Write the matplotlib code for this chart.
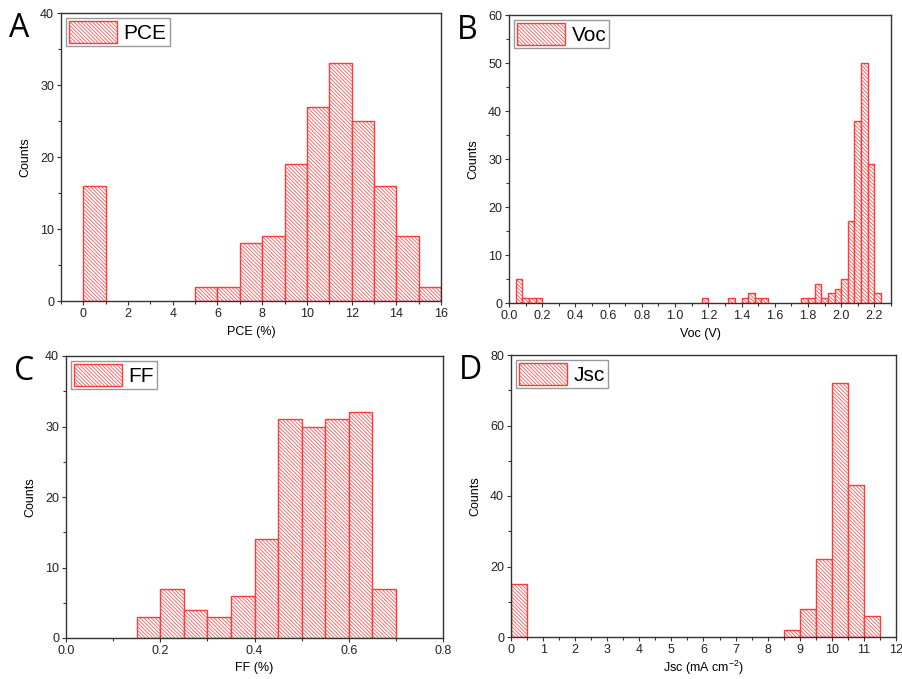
"""Four-panel histogram of device parameters (PCE, Voc, FF, Jsc)."""
import matplotlib
matplotlib.use("Agg")
import matplotlib.pyplot as plt
from matplotlib.ticker import MultipleLocator

# bin left edges and counts
pce_left = [0, 5, 6, 7, 8, 9, 10, 11, 12, 13, 14, 15]
pce_counts = [16, 2, 2, 8, 9, 19, 27, 33, 25, 16, 9, 2]

voc_left = [0.04, 0.08, 0.12, 0.16, 1.16, 1.32, 1.40, 1.44, 1.48, 1.52,
            1.76, 1.80, 1.84, 1.88, 1.92, 1.96, 2.00, 2.04, 2.08, 2.12, 2.16, 2.20]
voc_counts = [5, 1, 1, 1, 1, 1, 1, 2, 1, 1,
              1, 1, 4, 1, 2, 3, 5, 17, 38, 50, 29, 2]

ff_left = [0.15, 0.20, 0.25, 0.30, 0.35, 0.40, 0.45, 0.50, 0.55, 0.60, 0.65]
ff_counts = [3, 7, 4, 3, 6, 14, 31, 30, 31, 32, 7]

jsc_left = [0, 8.5, 9.0, 9.5, 10.0, 10.5, 11.0]
jsc_counts = [15, 2, 8, 22, 72, 43, 6]

RED = "#ff3b3b"
plt.rcParams.update({"font.family": "Liberation Sans", "font.size": 9,
                     "mathtext.default": "regular",
                     "hatch.linewidth": 0.5, "hatch.color": RED,
                     "axes.edgecolor": "#333333", "axes.linewidth": 1.0})

fig = plt.figure(figsize=(9.03, 6.79), dpi=100)
W, H = 903, 679


def panel(box, left, counts, width, label, letter, xlim, ylim,
          xmaj, xmin_, ymaj, ymin_, xlabel, xfmt=None, xpad=4):
    x0, y0, x1, y1 = box
    ax = fig.add_axes([x0 / W, 1 - y1 / H, (x1 - x0) / W, (y1 - y0) / H])
    ax.bar(left, counts, width=width, align="edge", facecolor="white",
           edgecolor=RED, linewidth=1.0, hatch="\\" * 9, label=label, zorder=2)
    ax.set_xlim(*xlim)
    ax.set_ylim(*ylim)
    ax.xaxis.set_major_locator(MultipleLocator(xmaj))
    ax.xaxis.set_minor_locator(MultipleLocator(xmin_))
    ax.yaxis.set_major_locator(MultipleLocator(ymaj))
    ax.yaxis.set_minor_locator(MultipleLocator(ymin_))
    if xfmt:
        ax.xaxis.set_major_formatter(xfmt)
    ax.tick_params(which="major", direction="out", length=3, width=0.8, pad=2,
                   labelsize=9, colors="#333333", labelcolor="#222222")
    ax.tick_params(which="minor", direction="out", length=2, width=0.8, colors="#333333")
    ax.set_ylabel("Counts", fontsize=9, labelpad=6)
    ax.set_xlabel(xlabel, fontsize=9, labelpad=xpad)
    leg = ax.legend(loc="upper left", fontsize=15, handlelength=2.3, handleheight=1.2,
                    fancybox=False, edgecolor="#999999", framealpha=1,
                    borderpad=0.15, handletextpad=0.3, borderaxespad=0.25)
    leg.get_frame().set_linewidth(1.0)
    fig.text((x0 - 52) / W, 1 - (y0 + 24) / H, letter, fontsize=23,
             family="Open Sans", ha="left", va="baseline")
    return ax


panel((61, 13, 441, 301), pce_left, pce_counts, 1.0, "PCE", "A",
      (-1, 16), (0, 40), 2, 1, 10, 5, "PCE (%)")
panel((509, 15, 891, 303), voc_left, voc_counts, 0.04, "Voc", "B",
      (0, 2.3), (0, 60), 0.2, 0.1, 10, 5, "Voc (V)", "{x:.1f}")
panel((66, 356, 443, 638), ff_left, ff_counts, 0.05, "FF", "C",
      (0, 0.8), (0, 40), 0.2, 0.1, 10, 5, "FF (%)", "{x:.1f}")
panel((511, 355, 896, 637), jsc_left, jsc_counts, 0.5, "Jsc", "D",
      (0, 12), (0, 80), 1, 0.5, 20, 10, "Jsc (mA cm$^{-2}$)", xpad=2)

fig.savefig("out.png", dpi=100, facecolor="white")
